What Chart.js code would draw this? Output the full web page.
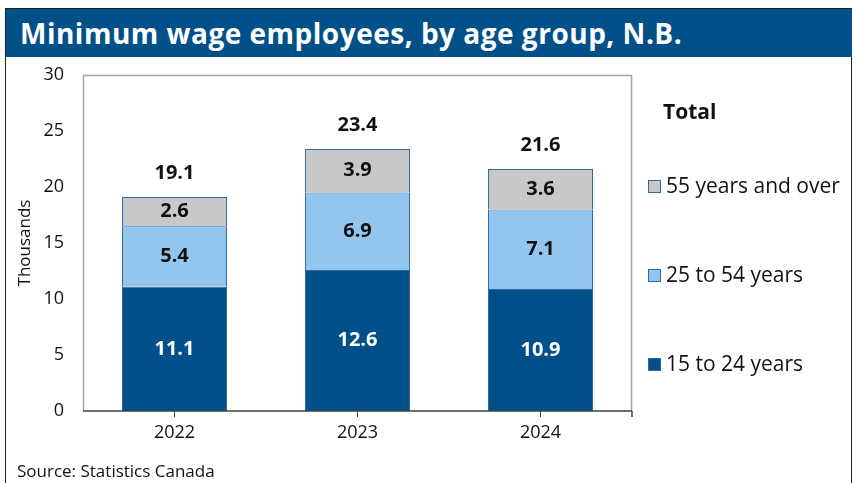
<!DOCTYPE html>
<html>
<head>
<meta charset="utf-8">
<script src="https://cdn.jsdelivr.net/npm/chart.js@4.4.1/dist/chart.umd.min.js"></script>
<style>
  body { margin: 0; background: #fff; font-family: "Open Sans", sans-serif; }
  #wrap { position: relative; width: 858px; height: 483px; overflow: hidden; }
  #frame { position: absolute; left: 5px; top: 8px; width: 847px; height: 490px; border: 1px solid #222; box-sizing: border-box; }
  #title { position: absolute; left: 6px; top: 9px; width: 846px; height: 48px; background: #02508A; color: #fff;
           font: bold 28px "Open Sans", sans-serif; line-height: 48px; padding-left: 14px; box-sizing: border-box; letter-spacing: 0.5px; }
  #c { position: absolute; left: 0; top: 0; }
  #legend { position: absolute; left: 648px; top: 0; font-size: 21px; color: #111; }
  .total { position: absolute; left: 15px; top: 97px; font-weight: bold; }
  .item { position: absolute; white-space: nowrap; }
  .item span { display: inline-block; width: 13px; height: 13px; box-sizing: border-box; border: 1px solid #2E6BA0; margin-right: 5px; vertical-align: 0px; }
  #source { position: absolute; left: 17px; top: 459px; font-size: 17px; color: #111; }
</style>
</head>
<body>
<div id="wrap">
  <div id="frame"></div>
  <div id="title">Minimum wage employees, by age group, N.B.</div>
  <canvas id="c" width="858" height="483"></canvas>
  <div id="legend"></div>
  <div id="source">Source: Statistics Canada</div>
</div>
<script>
const years = ['2022', '2023', '2024'];
const age15to24 = [11.1, 12.6, 10.9];
const age25to54 = [5.4, 6.9, 7.1];
const age55plus = [2.6, 3.9, 3.6];
const yTicks = [0, 5, 10, 15, 20, 25, 30];

const seriesNames = ['15 to 24 years', '25 to 54 years', '55 years and over'];
const seriesColors = ['#02508A', '#93C6EE', '#C8C8C8'];
const labelColors = ['#fff', '#111', '#111'];

// html legend, top item first like the picture
const legend = document.getElementById('legend');
legend.innerHTML = '<div class="total">Total</div>';
const legendTops = [349, 260, 171];
for (let i = 2; i >= 0; i--) {
    const d = document.createElement('div');
    d.className = 'item';
    d.style.top = legendTops[i] + 'px';
    d.innerHTML = `<span style="background:${seriesColors[i]}"></span>${seriesNames[i]}`;
    legend.appendChild(d);
}

const labelsPlugin = {
    id: 'labels',
    beforeDatasetsDraw(chart) {
        const a = chart.chartArea, ctx = chart.ctx;
        ctx.save();
        ctx.strokeStyle = '#A6A6A6';
        ctx.lineWidth = 1.5;
        ctx.beginPath();
        ctx.moveTo(a.left + 0.5, a.bottom);
        ctx.lineTo(a.left + 0.5, a.top + 0.5);
        ctx.lineTo(a.right - 0.5, a.top + 0.5);
        ctx.lineTo(a.right - 0.5, a.bottom);
        ctx.stroke();
        ctx.restore();
    },
    afterDatasetsDraw(chart) {
        const ctx = chart.ctx, a = chart.chartArea;
        ctx.save();
        ctx.textAlign = 'center';
        ctx.textBaseline = 'middle';
        ctx.font = 'bold 20px "Open Sans"';
        chart.data.datasets.forEach((ds, i) => {
            chart.getDatasetMeta(i).data.forEach((bar, j) => {
                ctx.fillStyle = labelColors[i];
                ctx.fillText(ds.data[j].toFixed(1), bar.x, (bar.y + bar.base) / 2);
            });
        });
        const top = chart.getDatasetMeta(2).data;
        ctx.fillStyle = '#111';
        years.forEach((y, j) => {
            const total = age15to24[j] + age25to54[j] + age55plus[j];
            ctx.fillText(total.toFixed(1), top[j].x, top[j].y - 24);
        });
        // x axis line and end tick
        ctx.strokeStyle = '#404040';
        ctx.lineWidth = 1.5;
        ctx.beginPath();
        ctx.moveTo(a.left, a.bottom);
        ctx.lineTo(a.right, a.bottom);
        ctx.moveTo(a.right, a.bottom);
        ctx.lineTo(a.right, a.bottom + 6);
        ctx.stroke();
        ctx.restore();
    }
};

new Chart(document.getElementById('c'), {
    type: 'bar',
    data: {
        labels: years,
        datasets: [
            { label: seriesNames[0], data: age15to24, backgroundColor: seriesColors[0] },
            { label: seriesNames[1], data: age25to54, backgroundColor: seriesColors[1] },
            { label: seriesNames[2], data: age55plus, backgroundColor: seriesColors[2] }
        ].map(d => Object.assign(d, { borderColor: '#2E6BA0', borderWidth: 1, categoryPercentage: 1, barPercentage: 0.574 }))
    },
    options: {
        responsive: false,
        animation: false,
        layout: { padding: { top: 75, right: 226, left: 15, bottom: 0 } },
        plugins: { legend: { display: false }, tooltip: { enabled: false } },
        scales: {
            x: {
                stacked: true,
                border: { display: false },
                grid: { offset: false, drawOnChartArea: false, tickLength: 6, color: '#404040' },
                ticks: { color: '#111', font: { family: 'Open Sans', size: 18 }, padding: 5 },
                afterFit(s) { s.height = 483 - 411; }
            },
            y: {
                stacked: true,
                min: 0, max: 30,
                afterBuildTicks(s) { s.ticks = yTicks.map(v => ({ value: v })); },
                border: { display: false },
                grid: { display: false },
                ticks: { color: '#111', font: { family: 'Open Sans', size: 18 }, padding: 11 },
                title: { display: true, text: 'Thousands', color: '#111', font: { family: 'Open Sans', size: 17 }, padding: 0 },
                afterFit(s) { s.width = 83 - 15; }
            }
        }
    },
    plugins: [labelsPlugin]
});
</script>
</body>
</html>
